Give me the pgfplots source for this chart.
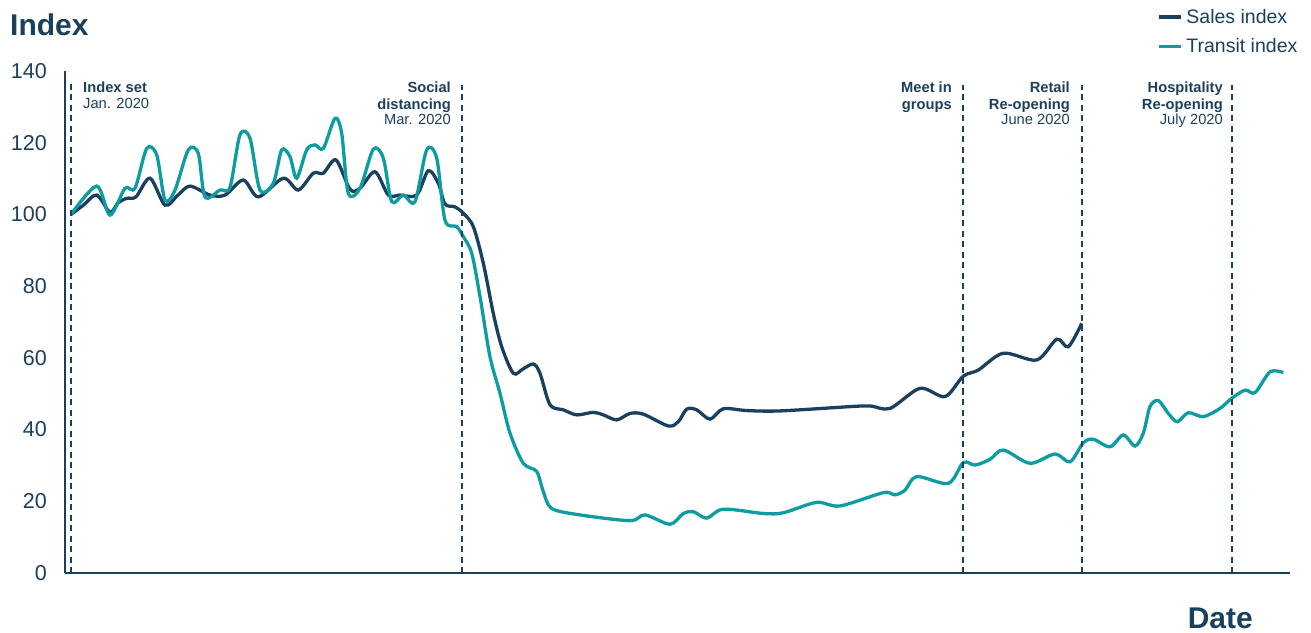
\documentclass[border=0pt]{standalone}
\usepackage{fontspec}
\setmainfont{Liberation Sans}
\usepackage{pgfplots}
\pgfplotsset{compat=1.18}
\definecolor{navy}{HTML}{1A405E}
\definecolor{tealc}{HTML}{0C9CA2}
\begin{document}
\begin{tikzpicture}
\useasboundingbox (-65pt,-59pt) rectangle (1246pt,573pt);
\begin{axis}[
  at={(0pt,0pt)}, anchor=south west, scale only axis,
  width=1225pt, height=502pt,
  xmin=65, xmax=1290, ymin=0, ymax=140,
  axis x line*=bottom, axis y line*=left,
  axis line style={navy, line width=1.8pt},
  xtick=\empty,
  ytick={0,20,...,140},
  major tick length=0pt,
  yticklabel style={font=\fontsize{21.5}{24}\selectfont, text=navy, inner sep=0pt, xshift=-18pt},
  /pgf/number format/assume math mode=true,
  clip=false,
  legend style={draw=none, fill=none, at={(0.8918,1.1275)}, anchor=north west,
    inner sep=0pt, font=\fontsize{19.5}{22}\selectfont, text=navy,
    nodes={inner xsep=3.5pt, inner ysep=2pt}, row sep=9.8pt},
  legend cell align=left,
  legend image code/.code={\draw[#1] (0pt,0pt) -- (22pt,0pt);},
]
\addplot[navy, line width=3.3pt, smooth] coordinates {
(71,100) (83,102.5) (96.7,105.4) (110,100.6) (118,103.2) (126.7,104.5) (136,104.9)
(150,110.1) (165,102.6) (178,105.4) (190,107.9) (210,105.4) (225,105.4) (243.3,109.6)
(258.3,104.9) (283.3,110.1) (298.3,106.8) (313.3,111.5) (323.3,111.5) (336,115.2)
(350,107.0) (360,107.3) (375,111.9) (388.3,105.4) (400,105.4) (416.7,105.4)
(428.3,112.2) (438.3,108.7) (445,102.9) (455,102.1) (463,100.4) (473.3,96.6)
(483.3,86.4) (493.3,72.4) (501.7,63.1) (513.3,55.7) (523,56.9) (533.3,58.3) (540,55.7)
(550,46.9) (563.3,45.5) (576.7,44.1) (593.3,44.8) (603.3,44.1) (616.7,42.7) (630,44.5)
(643.3,44.3) (668.3,41.0) (678.3,42.2) (686.7,45.7) (696.7,45.5) (710,42.9) (723.3,45.8)
(746.7,45.3) (780,45.2) (850,46.4) (870,46.6) (890,45.9) (920,51.5) (945,49.2)
(963.3,54.9) (978.3,56.6) (1003.3,61.3) (1036.7,59.4) (1056.7,65.2) (1068.3,63.1)
(1081.7,69.6)
};
\addlegendentry{Sales index}
\addplot[tealc, line width=3.3pt, smooth] coordinates {
(71,100) (96.7,107.9) (110,99.8) (125,107.3) (135,107.3) (146.7,118.4) (156.7,116.6)
(165,104.0) (175,106.8) (188.3,118.0) (198.3,117.0) (205,104.9) (220,106.8) (230,107.6)
(240,122.2) (250,121.2) (260,106.8) (273.3,108.7) (281.7,118.0) (290,116.1) (296.7,110.1)
(306.7,118.0) (315,119.4) (323.3,118.4) (335,126.8) (341.7,122.6) (348.3,105.9)
(360,107.3) (373.3,118.2) (383.3,115.7) (391.7,103.6) (403.3,105.4) (415,103.6)
(426.7,118.0) (436.7,115.7) (445,98.4) (456.7,96.6) (463.3,93.8) (471.7,89.2) (480,77.1)
(490,60.3) (500,50.1) (510,39.0) (523.3,30.6) (536.7,28.3) (543.3,22.7) (551.7,18.0)
(580,16.2) (630,14.6) (645,16.2) (670,13.6) (683.3,16.6) (693.3,17.1) (706.7,15.3)
(723.3,17.8) (763.3,16.6) (783.3,16.8) (816.7,19.7) (840,18.7) (883.3,22.4) (895,21.8)
(905,23.1) (916.7,26.9) (948.3,25.0) (963.3,30.8) (975,30.1) (990,31.7) (1003.3,34.3)
(1030,30.6) (1055,33.2) (1070,31.0) (1083.3,36.3) (1093.3,37.3) (1110,35.2) (1123.3,38.5)
(1135,35.4) (1143.3,39.0) (1150,46.4) (1158.3,48.1) (1168.3,44.5) (1177.3,42.2)
(1188.3,44.7) (1203.3,43.6) (1220,45.9) (1231.7,48.7) (1245,51.0) (1255,50.3)
(1270,56.1) (1283.3,55.9)
};
\addlegendentry{Transit index}
\pgfplotsset{every axis plot/.append style={forget plot}}
\addplot[navy, line width=1.6pt, dash pattern=on 6pt off 4.5pt] coordinates {(71,0) (71,136.5)};
\addplot[navy, line width=1.6pt, dash pattern=on 6pt off 4.5pt] coordinates {(462,0) (462,136)};
\addplot[navy, line width=1.6pt, dash pattern=on 6pt off 4.5pt] coordinates {(963,0) (963,136)};
\addplot[navy, line width=1.6pt, dash pattern=on 6pt off 4.5pt] coordinates {(1082,0) (1082,136)};
\addplot[navy, line width=1.6pt, dash pattern=on 6pt off 4.5pt] coordinates {(1232,0) (1232,136)};
\tikzset{ann/.style={text=navy, inner sep=0pt, font=\fontsize{14.7}{16}\selectfont}}
\node[ann, anchor=base west] at (axis cs:83,133.95) {\bfseries Index set};
\node[ann, anchor=base west] at (axis cs:83,129.68) {Jan. 2020};
\node[ann, anchor=base east] at (axis cs:451,133.95) {\bfseries Social};
\node[ann, anchor=base east] at (axis cs:451,129.4) {\bfseries distancing};
\node[ann, anchor=base east] at (axis cs:451,125.2) {Mar. 2020};
\node[ann, anchor=base east] at (axis cs:952,133.95) {\bfseries Meet in};
\node[ann, anchor=base east] at (axis cs:952,129.4) {\bfseries groups};
\node[ann, anchor=base east] at (axis cs:1070,133.95) {\bfseries Retail};
\node[ann, anchor=base east] at (axis cs:1070,129.4) {\bfseries Re-opening};
\node[ann, anchor=base east] at (axis cs:1070,125.2) {June 2020};
\node[ann, anchor=base east] at (axis cs:1223,133.95) {\bfseries Hospitality};
\node[ann, anchor=base east] at (axis cs:1223,129.4) {\bfseries Re-opening};
\node[ann, anchor=base east] at (axis cs:1223,125.2) {July 2020};
\end{axis}
\node[anchor=base west, inner sep=0pt, text=navy, font=\fontsize{30}{32}\selectfont\bfseries] at (-55pt,537pt) {Index};
\node[anchor=base east, inner sep=0pt, text=navy, font=\fontsize{30}{32}\selectfont\bfseries] at (1188pt,-55pt) {Date};
\end{tikzpicture}
\end{document}
